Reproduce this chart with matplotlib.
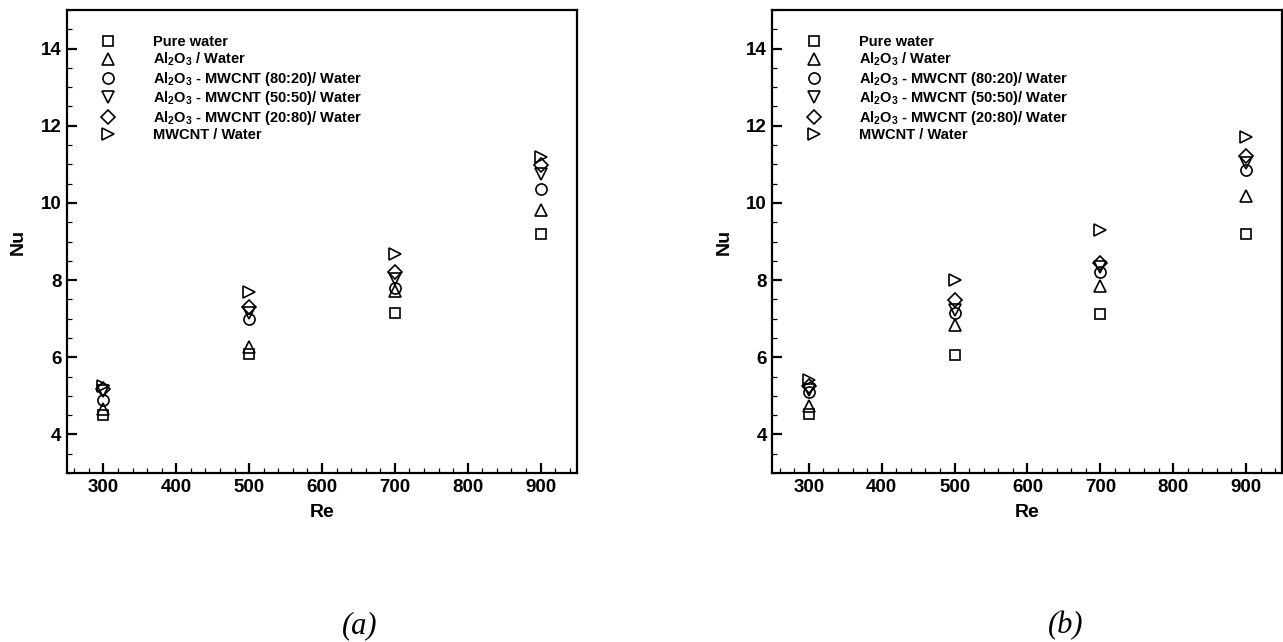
import numpy as np
import matplotlib
matplotlib.use("Agg")
import matplotlib.pyplot as plt
from matplotlib.ticker import MultipleLocator

plt.rcParams['font.family'] = ['Liberation Sans', 'DejaVu Sans']
plt.rcParams['font.weight'] = 'bold'
plt.rcParams['mathtext.fontset'] = 'custom'
plt.rcParams['mathtext.rm'] = 'Liberation Sans:bold'
plt.rcParams['mathtext.it'] = 'Liberation Sans:bold'
plt.rcParams['mathtext.bf'] = 'Liberation Sans:bold'

# Data
re = [300, 500, 700, 900]

labels = [
    'Pure water',
    r'Al$_2$O$_3$ / Water',
    r'Al$_2$O$_3$ - MWCNT (80:20)/ Water',
    r'Al$_2$O$_3$ - MWCNT (50:50)/ Water',
    r'Al$_2$O$_3$ - MWCNT (20:80)/ Water',
    'MWCNT / Water',
]
markers = ['s', '^', 'o', 'v', 'D', '>']
msizes = [7, 8, 8, 8, 7, 8]

# panel (a)
nu_a_water = [4.50, 6.08, 7.14, 9.20]
nu_a_al2o3 = [4.65, 6.27, 7.72, 9.82]
nu_a_8020 = [4.88, 7.00, 7.80, 10.36]
nu_a_5050 = [5.12, 7.15, 8.02, 10.75]
nu_a_2080 = [5.18, 7.30, 8.20, 10.98]
nu_a_mwcnt = [5.25, 7.68, 8.68, 11.18]

# panel (b)
nu_b_water = [4.52, 6.05, 7.12, 9.19]
nu_b_al2o3 = [4.75, 6.84, 7.85, 10.18]
nu_b_8020 = [5.10, 7.15, 8.22, 10.85]
nu_b_5050 = [5.16, 7.22, 8.35, 11.03]
nu_b_2080 = [5.25, 7.49, 8.44, 11.22]
nu_b_mwcnt = [5.42, 7.99, 9.30, 11.72]

series_a = [nu_a_water, nu_a_al2o3, nu_a_8020, nu_a_5050, nu_a_2080, nu_a_mwcnt]
series_b = [nu_b_water, nu_b_al2o3, nu_b_8020, nu_b_5050, nu_b_2080, nu_b_mwcnt]

fig = plt.figure(figsize=(12.83, 6.42), dpi=100)
ax_a = fig.add_axes([0.0522, 0.2632, 0.3975, 0.7212])
ax_b = fig.add_axes([0.6021, 0.2632, 0.3975, 0.7212])


def draw_panel(ax, series, caption):
    for vals, lab, mk, ms in zip(series, labels, markers, msizes):
        ax.plot(re, vals, linestyle='none', marker=mk, markersize=ms,
                markerfacecolor='none', markeredgecolor='black',
                markeredgewidth=1.2, label=lab)

    ax.set_xlim(250, 950)
    ax.set_ylim(3, 15)
    ax.xaxis.set_minor_locator(MultipleLocator(20))
    ax.yaxis.set_minor_locator(MultipleLocator(0.5))
    ax.set_xticks(np.arange(300, 901, 100))
    ax.set_yticks(np.arange(4, 15, 2))
    ax.tick_params(which='both', direction='in', top=False, right=False)
    ax.tick_params(which='major', length=7, width=1.6, labelsize=13.5, pad=4)
    ax.tick_params(which='minor', length=3.5, width=0.9)
    for sp in ax.spines.values():
        sp.set_linewidth(1.6)

    ax.set_xlabel('Re', fontsize=14, fontweight='bold', labelpad=6)
    ax.set_ylabel('Nu', fontsize=14, fontweight='bold', labelpad=10)

    ax.legend(loc='upper left', bbox_to_anchor=(0.052, 0.945), frameon=False,
              prop={'size': 10.5, 'weight': 'bold'}, handlelength=2.0,
              handletextpad=2.1, labelspacing=0.1, borderpad=0,
              borderaxespad=0)

    ax.text(0.5 + 38 / 510, -0.33, caption, transform=ax.transAxes,
            ha='center', va='center', fontsize=22, style='italic',
            fontweight='normal', family='Liberation Serif')


draw_panel(ax_a, series_a, '(a)')
draw_panel(ax_b, series_b, '(b)')

fig.savefig('out.png', dpi=100)
